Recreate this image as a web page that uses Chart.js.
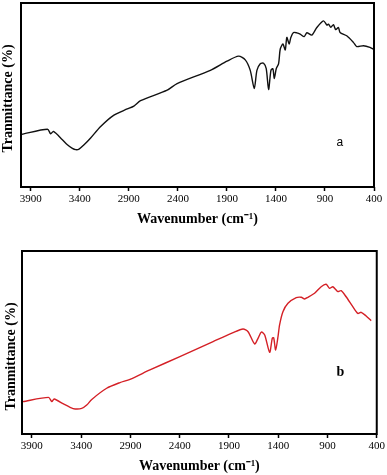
<!DOCTYPE html>
<html>
<head>
<meta charset="utf-8">
<script src="https://cdn.jsdelivr.net/npm/chart.js@4.4.1/dist/chart.umd.min.js"></script>
<style>
  html, body { margin: 0; padding: 0; background: #fff; }
  body { width: 387px; height: 475px; position: relative; overflow: hidden; }
  .panel { position: absolute; left: 0; width: 387px; }
</style>
</head>
<body>
<div class="panel" style="top:0;height:235px"><canvas id="chartA" width="387" height="235"></canvas></div>
<div class="panel" style="top:235px;height:240px"><canvas id="chartB" width="387" height="240"></canvas></div>
<script>
// ---- data ----
const tickValues = [3900, 3400, 2900, 2400, 1900, 1400, 900, 400];

const wavenumberA = [3992, 3730, 3697, 3669, 3578, 3527, 3476, 3442, 3408, 3357, 3290, 3188, 3052, 2916, 2849, 2781, 2509, 2408, 2069, 1899, 1781, 1713, 1662, 1621, 1594, 1560, 1526, 1499, 1475, 1451, 1431, 1417, 1397, 1373, 1356, 1329, 1305, 1289, 1265, 1248, 1221, 1187, 1153, 1112, 1085, 1034, 983, 915, 880, 865, 840, 814, 790, 763, 746, 678, 610, 576, 508, 441, 407];
const transmittanceA = [28.7, 31.4, 28.9, 30.2, 25.7, 23.0, 21.0, 20.3, 20.6, 22.9, 26.6, 32.9, 39.1, 42.4, 44.0, 46.9, 52.6, 56.2, 63.4, 68.4, 71.1, 69.1, 63.4, 53.5, 63.4, 67.0, 67.3, 64.3, 53.0, 63.4, 64.3, 58.9, 64.3, 67.0, 75.0, 77.7, 74.5, 81.3, 77.7, 81.3, 84.0, 83.8, 83.1, 81.7, 83.8, 82.6, 86.7, 90.3, 88.0, 88.5, 86.8, 88.2, 85.5, 86.7, 84.0, 82.2, 78.6, 76.3, 76.8, 75.9, 74.9];

const wavenumberB = [3991, 3731, 3697, 3674, 3579, 3512, 3461, 3394, 3343, 3292, 3141, 3006, 2904, 2702, 2398, 2061, 1858, 1757, 1706, 1639, 1605, 1571, 1537, 1487, 1460, 1446, 1426, 1402, 1386, 1352, 1301, 1217, 1166, 1132, 1099, 1031, 964, 913, 879, 846, 819, 795, 761, 711, 643, 592, 558, 508, 457];
const transmittanceB = [17.7, 20.0, 17.7, 19.1, 16.4, 14.6, 13.7, 14.0, 15.8, 18.9, 25.0, 28.1, 29.9, 35.0, 42.3, 50.5, 55.4, 57.4, 55.9, 49.2, 52.3, 55.7, 54.1, 44.6, 52.3, 52.6, 45.9, 53.2, 59.6, 66.8, 71.4, 74.5, 74.7, 73.8, 74.7, 76.9, 80.5, 81.8, 79.6, 80.5, 79.1, 77.8, 78.3, 75.0, 69.6, 65.9, 66.5, 64.5, 61.9];

const panelLabels = ['a', 'b'];
const labelAnchorA = [749, 23.9];   // [wavenumber, transmittance]
const labelAnchorB = [768, 33.9];

const xTitle = 'Wavenumber (cm\u207B\u00B9)';
const yTitle = 'Tranmittance (%)';

// ---- helpers ----
function toPoints(xs, ys) { return xs.map((x, i) => ({ x: x, y: ys[i] })); }

const framePlugin = {
  id: 'frame',
  afterDraw(chart) {
    const a = chart.chartArea, ctx = chart.ctx;
    ctx.save();
    ctx.strokeStyle = '#000';
    ctx.lineWidth = 2;
    ctx.strokeRect(a.left, a.top, a.right - a.left, a.bottom - a.top);
    ctx.restore();
  }
};

const panelLabelPlugin = {
  id: 'panelLabel',
  afterDatasetsDraw(chart, args, opts) {
    const ctx = chart.ctx;
    const x = chart.scales.x.getPixelForValue(opts.anchor[0]);
    const y = chart.scales.y.getPixelForValue(opts.anchor[1]);
    ctx.save();
    ctx.fillStyle = '#000';
    ctx.font = opts.font;
    ctx.textAlign = 'center';
    ctx.textBaseline = 'middle';
    ctx.fillText(opts.text, x, y);
    ctx.restore();
  }
};

function makeChart(id, xs, ys, color, cfg) {
  return new Chart(document.getElementById(id), {
    type: 'line',
    data: {
      datasets: [{
        data: toPoints(xs, ys),
        borderColor: color,
        borderWidth: 1.4,
        pointRadius: 0,
        tension: 0.25,
        fill: false
      }]
    },
    options: {
      responsive: false,
      animation: false,
      layout: { padding: { top: cfg.padTop, right: cfg.padRight, left: 0, bottom: 0 } },
      plugins: {
        legend: { display: false },
        tooltip: { enabled: false },
        panelLabel: { text: cfg.label, anchor: cfg.anchor, font: cfg.labelFont }
      },
      scales: {
        x: {
          type: 'linear',
          min: 400, max: 4000,
          reverse: true,
          afterBuildTicks: (s) => { s.ticks = tickValues.map(v => ({ value: v })); },
          afterFit: (s) => { s.height = cfg.xHeight; },
          border: { display: false },
          grid: { display: true, drawOnChartArea: false, drawTicks: true, tickLength: 4, tickColor: '#000', tickWidth: 1.5 },
          ticks: { color: '#000', padding: 2, maxRotation: 0, autoSkip: false,
                   callback: (v) => String(v),
                   font: { family: '"Liberation Serif", "Times New Roman", serif', size: 11 } },
          title: { display: true, text: xTitle, color: '#000',
                   padding: { top: 0, bottom: cfg.xTitlePad },
                   font: { family: '"Liberation Serif", "Times New Roman", serif', size: 14, weight: 'bold' } }
        },
        y: {
          min: 0, max: 100,
          afterFit: (s) => { s.width = cfg.yWidth; },
          border: { display: false },
          grid: { display: false },
          ticks: { display: false },
          title: { display: true, text: cfg.yTitleText, color: '#000',
                   padding: { top: cfg.yTitlePad, bottom: 0 },
                   font: { family: '"Liberation Serif", "Times New Roman", serif', size: 14, weight: 'bold' } }
        }
      }
    },
    plugins: [framePlugin, panelLabelPlugin]
  });
}

makeChart('chartA', wavenumberA, transmittanceA, '#111111', {
  padTop: 3, padRight: 13, xHeight: 48, xTitlePad: 7, yWidth: 21, yTitlePad: 0,
  label: panelLabels[0], anchor: labelAnchorA, labelFont: '12px "Liberation Sans", Arial, sans-serif',
  yTitleText: yTitle + '  '
});

makeChart('chartB', wavenumberB, transmittanceB, '#d42026', {
  padTop: 16, padRight: 10, xHeight: 41, xTitlePad: 0, yWidth: 22, yTitlePad: 3,
  label: panelLabels[1], anchor: labelAnchorB, labelFont: 'bold 14px "Liberation Serif", "Times New Roman", serif',
  yTitleText: yTitle + '        '
});
</script>
</body>
</html>
